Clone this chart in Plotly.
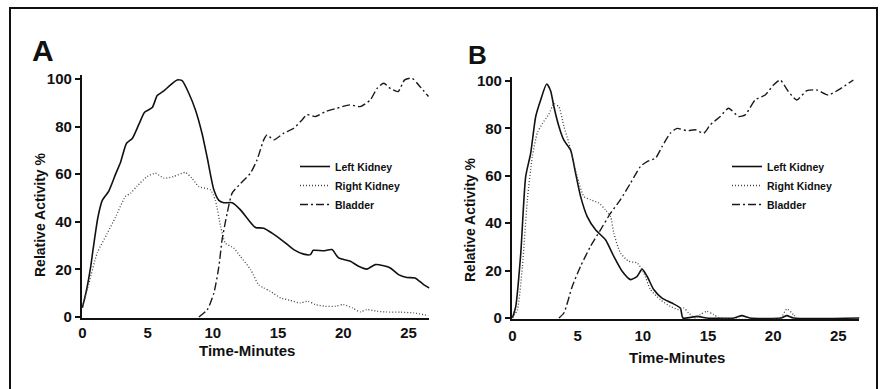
import plotly.graph_objects as go

# ---------------- Data (time in minutes, relative activity %) ----------------
# Panel A
a_left_t = [0, 0.33, 0.64, 0.84, 1.2, 1.53, 2.04, 2.55, 2.93, 3.39, 3.83, 4.34, 4.77, 5.36, 5.74, 6.25,
            6.76, 7.27, 7.65, 8.16, 8.67, 9.18, 9.57, 10.08, 10.46, 10.84, 11.48, 12.12, 12.63, 13.27,
            13.9, 14.54, 15.43, 16.2, 16.96, 17.47, 17.7, 18.5, 19.13, 19.64, 20.54, 21.17, 21.8,
            22.45, 23.1, 23.6, 24.23, 24.87, 25.5, 26.15, 26.6]
a_left_v = [3.8, 11.5, 21, 29, 42, 49, 53, 60, 65, 73, 75, 81, 86, 88, 93, 95,
            97.5, 99.6, 99.3, 94, 87, 77, 67, 53.4, 49, 48, 48, 45, 41.5, 37.6,
            37.3, 35.2, 31.7, 28.3, 26.4, 26.2, 28, 27.8, 28.3, 24.8, 23.4, 21.3, 20.1,
            22, 21.5, 20.6, 17.8, 16.6, 16.4, 13.6, 12.2]

a_right_t = [0, 0.5, 1.15, 1.9, 2.55, 3.3, 3.7, 4.2, 4.97, 5.6, 6.25, 7.0, 7.9, 8.4, 8.93, 9.82,
             10.2, 10.6, 10.97, 11.6, 12.1, 12.9, 13.5, 13.9, 14.4, 15.2, 15.9, 16.7, 17.3,
             17.86, 18.6, 19.4, 20.0, 20.7, 21.3, 21.8, 22.6, 23.3, 24.4, 25.4, 26.5]
a_right_v = [3.8, 14, 27, 35, 42, 50.6, 52, 55, 59, 60.4, 58.3, 59, 60.7, 58.3, 54.8, 53.4,
             49, 38, 31, 29, 25.5, 19.9, 13.6, 12.2, 10.8, 8, 7, 5.9, 6.6,
             5.2, 4.5, 4.5, 5.2, 3.8, 2.1, 3.1, 2.4, 2.1, 2, 1.7, 0.6]

a_bladder_t = [8.93, 9.57, 10.08, 10.46, 10.71, 11.1, 11.48, 12.12, 12.88, 13.39, 13.9, 14.16, 14.67,
               15.43, 16.2, 16.84, 17.22, 17.86, 18.62, 19.5, 20.5, 21.3, 22.07, 22.58, 23.1,
               23.6, 24.2, 24.7, 25.26, 25.77, 26.53]
a_bladder_v = [0, 3, 10, 21, 32.4, 43.6, 52, 56, 60.4, 66, 74.4, 76.5, 74.4,
               77.2, 79.3, 82.8, 85, 84.2, 86.3, 87.7, 89.1, 88.4, 91.2, 96, 98.2,
               96, 94.7, 99.6, 100.3, 97.5, 92.6]

# Panel B
b_left_t = [0, 0.26, 0.64, 1.02, 1.4, 1.79, 2.17, 2.63, 2.93, 3.19, 3.57, 3.95, 4.46, 4.85, 5.23,
            5.74, 6.38, 7.14, 7.78, 8.42, 9.06, 9.57, 9.95, 10.33, 10.84, 11.48, 12.24, 12.88,
            13.08, 14.2, 14.9, 17.0, 17.6, 18.2, 20.6, 21.05, 21.56, 26.66]
b_left_v = [0, 4.9, 27, 59.6, 69.4, 85, 92, 98.7, 95.9, 89, 80.8, 75, 70.9, 61, 51.3,
            42.8, 37.2, 33, 26, 19.7, 16.2, 17.6, 20.6, 17.6, 12, 8.4, 6.3, 4.2,
            0, 0.7, 0, 0, 1, 0, 0, 1, 0, 0]

b_right_t = [0, 0.38, 0.77, 1.15, 1.53, 1.91, 2.3, 2.8, 3.19, 3.57, 3.95, 4.34, 4.97, 5.48, 5.99,
             6.63, 7.14, 7.53, 7.78, 8.29, 8.93, 9.57, 10.08, 10.59, 11.35, 12.12, 12.76, 13.14,
             13.52, 14.03, 14.41, 14.92, 15.43, 15.94, 20.54, 21.05, 21.56, 21.8]
b_right_v = [0, 3.5, 21.8, 49.9, 68, 78, 82, 86, 90.4, 89, 80.8, 73.7, 59.7, 51.3, 49.9,
             48.5, 45.6, 42.8, 35.8, 27.4, 23.9, 23.2, 19, 12, 7.7, 4.9, 3.5, 4.2,
             2.1, 0, 1.4, 2.8, 1.4, 0, 0, 3.8, 1.4, 0]

b_bladder_t = [3.57, 3.95, 4.59, 5.23, 5.99, 6.76, 7.53, 8.29, 9.06, 9.82, 10.33, 10.97, 11.48,
               12.12, 12.63, 13.39, 14.03, 14.67, 15.18, 15.94, 16.58, 17.35, 17.86, 18.62,
               19.39, 20.03, 20.54, 21.17, 21.81, 22.58, 23.34, 24.23, 25.0, 26.15]
b_bladder_v = [0, 2.1, 13.3, 21.8, 30.2, 37.2, 44.2, 49.9, 56.9, 63.9, 66, 67.4, 72.3,
               78, 80, 79, 79.4, 78, 81.5, 85, 88.5, 85, 85.7, 92,
               94.1, 98.3, 100.4, 95.5, 92, 95.9, 96.2, 94.1, 96.2, 100.4]

x_ticks = [0, 5, 10, 15, 20, 25]
y_ticks = [0, 20, 40, 60, 80, 100]
series_names = ["Left Kidney", "Right Kidney", "Bladder"]

# ---------------- Figure ----------------
FONT = "Liberation Sans, Arial, sans-serif"
styles = [
    dict(color="#111111", width=1.6, dash="solid"),
    dict(color="#444444", width=1.3, dash="1px,2px"),
    dict(color="#1a1a1a", width=1.4, dash="8px,3px,2px,3px"),
]

fig = go.Figure()
panels = [
    ("x", "y", "legend", [(a_left_t, a_left_v), (a_right_t, a_right_v), (a_bladder_t, a_bladder_v)]),
    ("x2", "y2", "legend2", [(b_left_t, b_left_v), (b_right_t, b_right_v), (b_bladder_t, b_bladder_v)]),
]
for xa, ya, lg, series in panels:
    for name, (t, v), st in zip(series_names, series, styles):
        fig.add_trace(go.Scatter(
            x=t, y=v, mode="lines", name=name, xaxis=xa, yaxis=ya, legend=lg,
            line=dict(color=st["color"], width=st["width"], dash=st["dash"],
                      shape="spline", smoothing=0.6),
            hoverinfo="skip",
        ))

tickfont = dict(family=FONT, size=15, color="#111", weight="bold")
axis_common = dict(showgrid=False, zeroline=False, showline=True, linecolor="#111",
                   linewidth=1.6, tickfont=tickfont, automargin=False)

fig.update_layout(
    width=880, height=389,
    margin=dict(l=0, r=0, t=0, b=0),
    paper_bgcolor="white", plot_bgcolor="white",
    showlegend=True,
    xaxis=dict(domain=[0.0928, 0.488], range=[-0.05, 26.6], tickvals=x_ticks,
               ticks="", ticklabelstandoff=0, anchor="y", **axis_common),
    yaxis=dict(domain=[0.1815, 0.8062], range=[-0.6, 101.5], tickvals=y_ticks,
               ticks="outside", ticklen=5, tickwidth=1.6, tickcolor="#111",
               anchor="x", **axis_common),
    xaxis2=dict(domain=[0.5815, 0.9764], range=[-0.05, 26.6], tickvals=x_ticks,
                ticks="", ticklabelstandoff=2, anchor="y2", **axis_common),
    yaxis2=dict(domain=[0.1789, 0.801], range=[-0.6, 101.5], tickvals=y_ticks,
                ticks="outside", ticklen=5, tickwidth=1.6, tickcolor="#111",
                anchor="x2", **axis_common),
    legend=dict(x=295 / 880, y=(389 - 152) / 389, xanchor="left", yanchor="top",
                bgcolor="rgba(0,0,0,0)", itemwidth=30, tracegroupgap=0,
                font=dict(family=FONT, size=10.5, color="#111", weight="bold")),
    legend2=dict(x=727 / 880, y=(389 - 152) / 389, xanchor="left", yanchor="top",
                 bgcolor="rgba(0,0,0,0)", itemwidth=30, tracegroupgap=0,
                 font=dict(family=FONT, size=10.5, color="#111", weight="bold")),
)

annots = [
    dict(text="A", x=30 / 880, y=(389 - 51) / 389, xanchor="left", yanchor="middle",
         font=dict(family=FONT, size=30, color="#111", weight="bold")),
    dict(text="B", x=466 / 880, y=(389 - 55) / 389, xanchor="left", yanchor="middle",
         font=dict(family=FONT, size=26, color="#111", weight="bold")),
    dict(text="Time-Minutes", x=247 / 880, y=(389 - 350) / 389, xanchor="center",
         yanchor="middle", font=dict(family=FONT, size=15, color="#111", weight="bold")),
    dict(text="Time-Minutes", x=677 / 880, y=(389 - 357) / 389, xanchor="center",
         yanchor="middle", font=dict(family=FONT, size=15, color="#111", weight="bold")),
    dict(text="Relative Activity %", x=40 / 880, y=(389 - 215) / 389, xanchor="center",
         yanchor="middle", textangle=-90,
         font=dict(family=FONT, size=14, color="#111", weight="bold")),
    dict(text="Relative Activity %", x=470 / 880, y=(389 - 220) / 389, xanchor="center",
         yanchor="middle", textangle=-90,
         font=dict(family=FONT, size=14, color="#111", weight="bold")),
]
for a in annots:
    fig.add_annotation(xref="paper", yref="paper", showarrow=False, **a)

# outer frame of the figure
fig.add_shape(type="rect", xref="paper", yref="paper",
              x0=10 / 880, x1=877 / 880, y0=-0.05, y1=(389 - 8) / 389,
              line=dict(color="#111", width=2))

fig.write_html("out.html", config={"displayModeBar": False},
               post_script="document.body.style.margin='0';document.body.style.overflow='hidden';")
